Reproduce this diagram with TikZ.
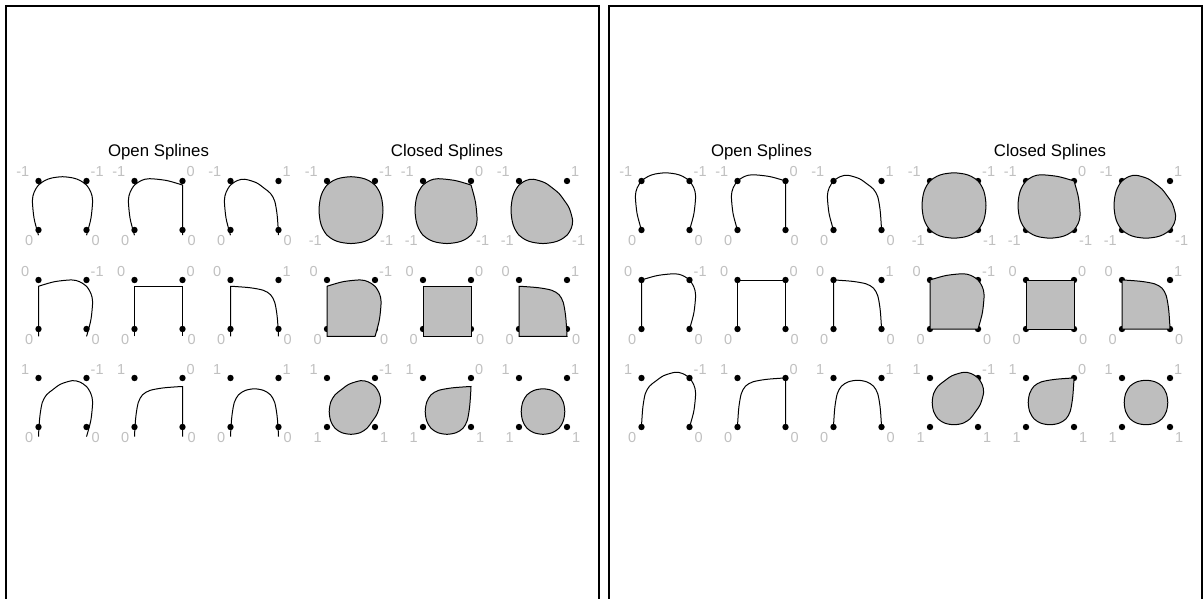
\documentclass[tikz,border=0pt]{standalone}
\usepackage{fontspec}
\setmainfont{Liberation Sans}
\definecolor{lblgray}{RGB}{192,192,192}
\definecolor{splgray}{RGB}{190,190,190}

\begin{document}
\begin{tikzpicture}[x=1pt,y=-1pt,
  panel/.style={line width=1.2pt},
  ttl/.style={font=\fontsize{16.8}{20}\selectfont,inner sep=0pt,anchor=base},
  sfl/.style={font=\fontsize{14.5}{16}\selectfont,text=lblgray,inner sep=0pt,anchor=base east},
  sfr/.style={font=\fontsize{14.5}{16}\selectfont,text=lblgray,inner sep=0pt,anchor=base west},
  opensp/.style={line width=1pt},
  closedsp/.style={draw=black,fill=splgray,line width=1pt}]
\useasboundingbox (0,0) rectangle (1203,599);
\begin{scope}[xshift=0pt]
\draw[panel] (6,620) -- (6,6) -- (599,6) -- (599,620);
\node[ttl] (Lopen) at (158.5,157) {Open Splines};
\node[ttl] (Lclosed) at (447,157) {Closed Splines};
\fill (38.5,181) circle (3.2pt) (86.5,181) circle (3.2pt) (38.5,230) circle (3.2pt) (86.5,230) circle (3.2pt);
\node[sfl] (Lo11tl) at (29.5,177) {-1};
\node[sfr] (Lo11tr) at (90.5,177) {-1};
\node[sfl] (Lo11bl) at (33.5,245) {0};
\node[sfr] (Lo11br) at (91.5,245) {0};
\draw[opensp,shift={(38.5,235.18)},yscale=-1.0225] plot[smooth] coordinates {(0,0) (-1.02,3.32) (-4.5,16.84) (-6.11,33.7) (-4.44,41.82) (0,49) (6.84,53.67) (13.58,55.98) (24,57.17) (34.42,55.98) (41.16,53.67) (48,49) (52.44,41.82) (54.11,33.7) (52.5,16.84) (49.02,3.32) (48,0)};
\fill (134.5,181) circle (3.2pt) (182.5,181) circle (3.2pt) (134.5,230) circle (3.2pt) (182.5,230) circle (3.2pt);
\node[sfl] (Lo12tl) at (125.5,177) {-1};
\node[sfr] (Lo12tr) at (186.5,177) {0};
\node[sfl] (Lo12bl) at (129.5,245) {0};
\node[sfr] (Lo12br) at (187.5,245) {0};
\draw[opensp,shift={(134.5,235.18)},yscale=-1.0225] plot[smooth] coordinates {(0,0) (-1.02,3.32) (-4.5,16.84) (-6.11,33.7) (-4.44,41.82) (0,49) (7.03,53.54) (14.99,55.24) (31.5,53.59) (44.75,50.04) (48,49)} -- (48,0);
\fill (230.5,181) circle (3.2pt) (278.5,181) circle (3.2pt) (230.5,230) circle (3.2pt) (278.5,230) circle (3.2pt);
\node[sfl] (Lo13tl) at (221.5,177) {-1};
\node[sfr] (Lo13tr) at (282.5,177) {1};
\node[sfl] (Lo13bl) at (225.5,245) {0};
\node[sfr] (Lo13br) at (283.5,245) {0};
\draw[opensp,shift={(230.5,235.18)},yscale=-1.0225] plot[smooth] coordinates {(0,0) (-1.02,3.32) (-4.5,16.84) (-6.11,33.7) (-4.44,41.82) (0,49) (6.99,53.47) (14.34,54.71) (25.83,51.32) (33.67,45.94) (40,40.83) (44.23,33.29) (46.62,19.95) (47.8,4.46) (48,0)};
\fill (327,181) circle (3.2pt) (375,181) circle (3.2pt) (327,230) circle (3.2pt) (375,230) circle (3.2pt);
\node[sfl] (Lc11tl) at (318,177) {-1};
\node[sfr] (Lc11tr) at (379,177) {-1};
\node[sfl] (Lc11bl) at (322,245) {-1};
\node[sfr] (Lc11br) at (380,245) {-1};
\draw[closedsp,shift={(327,235.18)},yscale=-1.0225] plot[smooth cycle] coordinates {(0,49) (6.84,53.67) (13.58,55.98) (24,57.17) (34.42,55.98) (41.16,53.67) (48,49) (52.57,42.02) (54.83,35.14) (56,24.5) (54.83,13.86) (52.57,6.98) (48,0) (41.16,-4.67) (34.42,-6.97) (24,-8.17) (13.58,-6.97) (6.84,-4.67) (0,0) (-4.57,6.98) (-6.83,13.86) (-8,24.5) (-6.83,35.14) (-4.57,42.02)};
\fill (423,181) circle (3.2pt) (471,181) circle (3.2pt) (423,230) circle (3.2pt) (471,230) circle (3.2pt);
\node[sfl] (Lc12tl) at (414,177) {-1};
\node[sfr] (Lc12tr) at (475,177) {0};
\node[sfl] (Lc12bl) at (418,245) {-1};
\node[sfr] (Lc12br) at (476,245) {-1};
\draw[closedsp,shift={(423,235.18)},yscale=-1.0225] plot[smooth] coordinates {(48,49) (49.02,45.68) (52.5,32.16) (54.11,15.3) (52.44,7.18) (48,0) (41.16,-4.67) (34.42,-6.97) (24,-8.17) (13.58,-6.97) (6.84,-4.67) (0,0) (-4.57,6.98) (-6.83,13.86) (-8,24.5) (-6.83,35.14) (-4.57,42.02) (0,49) (7.03,53.54) (14.99,55.24) (31.5,53.59) (44.75,50.04) (48,49)} -- cycle;
\fill (519,181) circle (3.2pt) (567,181) circle (3.2pt) (519,230) circle (3.2pt) (567,230) circle (3.2pt);
\node[sfl] (Lc13tl) at (510,177) {-1};
\node[sfr] (Lc13tr) at (571,177) {1};
\node[sfl] (Lc13bl) at (514,245) {-1};
\node[sfr] (Lc13br) at (572,245) {-1};
\draw[closedsp,shift={(519,235.18)},yscale=-1.0225] plot[smooth cycle] coordinates {(0,49) (6.99,53.47) (14.34,54.71) (25.83,51.32) (33.67,45.94) (40,40.83) (45,34.38) (50.27,26.37) (53.6,14.64) (52.38,7.14) (48,0) (41.16,-4.67) (34.42,-6.97) (24,-8.17) (13.58,-6.97) (6.84,-4.67) (0,0) (-4.57,6.98) (-6.83,13.86) (-8,24.5) (-6.83,35.14) (-4.57,42.02)};
\fill (38.5,280) circle (3.2pt) (86.5,280) circle (3.2pt) (38.5,329) circle (3.2pt) (86.5,329) circle (3.2pt);
\node[sfl] (Lo21tl) at (29.5,276) {0};
\node[sfr] (Lo21tr) at (90.5,276) {-1};
\node[sfl] (Lo21bl) at (33.5,344) {0};
\node[sfr] (Lo21br) at (91.5,344) {0};
\draw[opensp,shift={(38.5,336.40)},yscale=-1.0225] (0,0) -- plot[smooth] coordinates {(0,49) (3.26,50.04) (16.5,53.59) (33.01,55.24) (40.97,53.54) (48,49) (52.44,41.82) (54.11,33.7) (52.5,16.84) (49.02,3.32) (48,0)};
\fill (134.5,280) circle (3.2pt) (182.5,280) circle (3.2pt) (134.5,329) circle (3.2pt) (182.5,329) circle (3.2pt);
\node[sfl] (Lo22tl) at (125.5,276) {0};
\node[sfr] (Lo22tr) at (186.5,276) {0};
\node[sfl] (Lo22bl) at (129.5,344) {0};
\node[sfr] (Lo22br) at (187.5,344) {0};
\draw[opensp,shift={(134.5,336.40)},yscale=-1.0225] (0,0) -- (0,49) -- (48,49) -- (48,0);
\fill (230.5,280) circle (3.2pt) (278.5,280) circle (3.2pt) (230.5,329) circle (3.2pt) (278.5,329) circle (3.2pt);
\node[sfl] (Lo23tl) at (221.5,276) {0};
\node[sfr] (Lo23tr) at (282.5,276) {1};
\node[sfl] (Lo23bl) at (225.5,344) {0};
\node[sfr] (Lo23br) at (283.5,344) {0};
\draw[opensp,shift={(230.5,336.40)},yscale=-1.0225] (0,0) -- plot[smooth] coordinates {(0,49) (4.36,48.8) (19.54,47.59) (32.61,45.15) (40,40.83) (44.23,33.29) (46.62,19.95) (47.8,4.46) (48,0)};
\fill (327,280) circle (3.2pt) (375,280) circle (3.2pt) (327,329) circle (3.2pt) (375,329) circle (3.2pt);
\node[sfl] (Lc21tl) at (318,276) {0};
\node[sfr] (Lc21tr) at (379,276) {-1};
\node[sfl] (Lc21bl) at (322,344) {0};
\node[sfr] (Lc21br) at (380,344) {0};
\draw[closedsp,shift={(327,336.40)},yscale=-1.0225] (0,0) -- plot[smooth] coordinates {(0,49) (3.26,50.04) (16.5,53.59) (33.01,55.24) (40.97,53.54) (48,49) (52.44,41.82) (54.11,33.7) (52.5,16.84) (49.02,3.32) (48,0)} -- cycle;
\fill (423,280) circle (3.2pt) (471,280) circle (3.2pt) (423,329) circle (3.2pt) (471,329) circle (3.2pt);
\node[sfl] (Lc22tl) at (414,276) {0};
\node[sfr] (Lc22tr) at (475,276) {0};
\node[sfl] (Lc22bl) at (418,344) {0};
\node[sfr] (Lc22br) at (476,344) {0};
\draw[closedsp,shift={(423,336.40)},yscale=-1.0225] (0,0) rectangle (48,49);
\fill (519,280) circle (3.2pt) (567,280) circle (3.2pt) (519,329) circle (3.2pt) (567,329) circle (3.2pt);
\node[sfl] (Lc23tl) at (510,276) {0};
\node[sfr] (Lc23tr) at (571,276) {1};
\node[sfl] (Lc23bl) at (514,344) {0};
\node[sfr] (Lc23br) at (572,344) {0};
\draw[closedsp,shift={(519,336.40)},yscale=-1.0225] (0,0) -- plot[smooth] coordinates {(0,49) (4.36,48.8) (19.54,47.59) (32.61,45.15) (40,40.83) (44.23,33.29) (46.62,19.95) (47.8,4.46) (48,0)} -- cycle;
\fill (38.5,378) circle (3.2pt) (86.5,378) circle (3.2pt) (38.5,427) circle (3.2pt) (86.5,427) circle (3.2pt);
\node[sfl] (Lo31tl) at (29.5,374) {1};
\node[sfr] (Lo31tr) at (90.5,374) {-1};
\node[sfl] (Lo31bl) at (33.5,442) {0};
\node[sfr] (Lo31br) at (91.5,442) {0};
\draw[opensp,shift={(38.5,436.61)},yscale=-1.0225] plot[smooth] coordinates {(0,0) (0.2,4.46) (1.38,19.95) (3.77,33.29) (8,40.83) (14.33,45.94) (22.17,51.32) (33.66,54.71) (41.01,53.47) (48,49) (52.44,41.82) (54.11,33.7) (52.5,16.84) (49.02,3.32) (48,0)};
\fill (134.5,378) circle (3.2pt) (182.5,378) circle (3.2pt) (134.5,427) circle (3.2pt) (182.5,427) circle (3.2pt);
\node[sfl] (Lo32tl) at (125.5,374) {1};
\node[sfr] (Lo32tr) at (186.5,374) {0};
\node[sfl] (Lo32bl) at (129.5,442) {0};
\node[sfr] (Lo32br) at (187.5,442) {0};
\draw[opensp,shift={(134.5,436.61)},yscale=-1.0225] plot[smooth] coordinates {(0,0) (0.2,4.46) (1.38,19.95) (3.77,33.29) (8,40.83) (15.39,45.15) (28.46,47.59) (43.64,48.8) (48,49)} -- (48,0);
\fill (230.5,378) circle (3.2pt) (278.5,378) circle (3.2pt) (230.5,427) circle (3.2pt) (278.5,427) circle (3.2pt);
\node[sfl] (Lo33tl) at (221.5,374) {1};
\node[sfr] (Lo33tr) at (282.5,374) {1};
\node[sfl] (Lo33bl) at (225.5,442) {0};
\node[sfr] (Lo33br) at (283.5,442) {0};
\draw[opensp,shift={(230.5,436.61)},yscale=-1.0225] plot[smooth] coordinates {(0,0) (0.2,4.46) (1.38,19.95) (3.77,33.29) (8,40.83) (14.88,45.17) (24,46.74) (33.12,45.17) (40,40.83) (44.23,33.29) (46.62,19.95) (47.8,4.46) (48,0)};
\fill (327,378) circle (3.2pt) (375,378) circle (3.2pt) (327,427) circle (3.2pt) (375,427) circle (3.2pt);
\node[sfl] (Lc31tl) at (318,374) {1};
\node[sfr] (Lc31tr) at (379,374) {-1};
\node[sfl] (Lc31bl) at (322,442) {1};
\node[sfr] (Lc31br) at (380,442) {1};
\draw[closedsp,shift={(327,436.61)},yscale=-1.0225] plot[smooth cycle] coordinates {(8,40.83) (14.33,45.94) (22.17,51.32) (33.66,54.71) (41.01,53.47) (48,49) (52.38,41.86) (53.6,34.36) (50.27,22.63) (45,14.62) (40,8.17) (33.12,3.83) (24,2.26) (14.88,3.83) (8,8.17) (3.75,15.19) (2.22,24.5) (3.75,33.81)};
\fill (423,378) circle (3.2pt) (471,378) circle (3.2pt) (423,427) circle (3.2pt) (471,427) circle (3.2pt);
\node[sfl] (Lc32tl) at (414,374) {1};
\node[sfr] (Lc32tr) at (475,374) {0};
\node[sfl] (Lc32bl) at (418,442) {1};
\node[sfr] (Lc32br) at (476,442) {1};
\draw[closedsp,shift={(423,436.61)},yscale=-1.0225] plot[smooth] coordinates {(48,49) (47.8,44.55) (46.62,29.05) (44.23,15.71) (40,8.17) (33.12,3.83) (24,2.26) (14.88,3.83) (8,8.17) (3.75,15.19) (2.22,24.5) (3.75,33.81) (8,40.83) (15.39,45.15) (28.46,47.59) (43.64,48.8) (48,49)} -- cycle;
\fill (519,378) circle (3.2pt) (567,378) circle (3.2pt) (519,427) circle (3.2pt) (567,427) circle (3.2pt);
\node[sfl] (Lc33tl) at (510,374) {1};
\node[sfr] (Lc33tr) at (571,374) {1};
\node[sfl] (Lc33bl) at (514,442) {1};
\node[sfr] (Lc33br) at (572,442) {1};
\draw[closedsp,shift={(519,436.61)},yscale=-1.0225] plot[smooth cycle] coordinates {(8,40.83) (14.88,45.17) (24,46.74) (33.12,45.17) (40,40.83) (44.25,33.81) (45.78,24.5) (44.25,15.19) (40,8.17) (33.12,3.83) (24,2.26) (14.88,3.83) (8,8.17) (3.75,15.19) (2.22,24.5) (3.75,33.81)};
\end{scope}
\begin{scope}[xshift=603pt]
\draw[panel] (6,620) -- (6,6) -- (599,6) -- (599,620);
\node[ttl] (Ropen) at (158.5,157) {Open Splines};
\node[ttl] (Rclosed) at (447,157) {Closed Splines};
\fill (38.5,181) circle (3.2pt) (86.5,181) circle (3.2pt) (38.5,230) circle (3.2pt) (86.5,230) circle (3.2pt);
\node[sfl] (Ro11tl) at (29.5,177) {-1};
\node[sfr] (Ro11tr) at (90.5,177) {-1};
\node[sfl] (Ro11bl) at (33.5,245) {0};
\node[sfr] (Ro11br) at (91.5,245) {0};
\draw[opensp,shift={(38.5,230)},yscale=-1] plot[smooth] coordinates {(0,0) (-1.02,3.32) (-4.5,16.84) (-6.11,33.7) (-4.44,41.82) (0,49) (6.84,53.67) (13.58,55.98) (24,57.17) (34.42,55.98) (41.16,53.67) (48,49) (52.44,41.82) (54.11,33.7) (52.5,16.84) (49.02,3.32) (48,0)};
\fill (134.5,181) circle (3.2pt) (182.5,181) circle (3.2pt) (134.5,230) circle (3.2pt) (182.5,230) circle (3.2pt);
\node[sfl] (Ro12tl) at (125.5,177) {-1};
\node[sfr] (Ro12tr) at (186.5,177) {0};
\node[sfl] (Ro12bl) at (129.5,245) {0};
\node[sfr] (Ro12br) at (187.5,245) {0};
\draw[opensp,shift={(134.5,230)},yscale=-1] plot[smooth] coordinates {(0,0) (-1.02,3.32) (-4.5,16.84) (-6.11,33.7) (-4.44,41.82) (0,49) (7.03,53.54) (14.99,55.24) (31.5,53.59) (44.75,50.04) (48,49)} -- (48,0);
\fill (230.5,181) circle (3.2pt) (278.5,181) circle (3.2pt) (230.5,230) circle (3.2pt) (278.5,230) circle (3.2pt);
\node[sfl] (Ro13tl) at (221.5,177) {-1};
\node[sfr] (Ro13tr) at (282.5,177) {1};
\node[sfl] (Ro13bl) at (225.5,245) {0};
\node[sfr] (Ro13br) at (283.5,245) {0};
\draw[opensp,shift={(230.5,230)},yscale=-1] plot[smooth] coordinates {(0,0) (-1.02,3.32) (-4.5,16.84) (-6.11,33.7) (-4.44,41.82) (0,49) (6.99,53.47) (14.34,54.71) (25.83,51.32) (33.67,45.94) (40,40.83) (44.23,33.29) (46.62,19.95) (47.8,4.46) (48,0)};
\fill (327,181) circle (3.2pt) (375,181) circle (3.2pt) (327,230) circle (3.2pt) (375,230) circle (3.2pt);
\node[sfl] (Rc11tl) at (318,177) {-1};
\node[sfr] (Rc11tr) at (379,177) {-1};
\node[sfl] (Rc11bl) at (322,245) {-1};
\node[sfr] (Rc11br) at (380,245) {-1};
\draw[closedsp,shift={(327,230)},yscale=-1] plot[smooth cycle] coordinates {(0,49) (6.84,53.67) (13.58,55.98) (24,57.17) (34.42,55.98) (41.16,53.67) (48,49) (52.57,42.02) (54.83,35.14) (56,24.5) (54.83,13.86) (52.57,6.98) (48,0) (41.16,-4.67) (34.42,-6.97) (24,-8.17) (13.58,-6.97) (6.84,-4.67) (0,0) (-4.57,6.98) (-6.83,13.86) (-8,24.5) (-6.83,35.14) (-4.57,42.02)};
\fill (423,181) circle (3.2pt) (471,181) circle (3.2pt) (423,230) circle (3.2pt) (471,230) circle (3.2pt);
\node[sfl] (Rc12tl) at (414,177) {-1};
\node[sfr] (Rc12tr) at (475,177) {0};
\node[sfl] (Rc12bl) at (418,245) {-1};
\node[sfr] (Rc12br) at (476,245) {-1};
\draw[closedsp,shift={(423,230)},yscale=-1] plot[smooth] coordinates {(48,49) (49.02,45.68) (52.5,32.16) (54.11,15.3) (52.44,7.18) (48,0) (41.16,-4.67) (34.42,-6.97) (24,-8.17) (13.58,-6.97) (6.84,-4.67) (0,0) (-4.57,6.98) (-6.83,13.86) (-8,24.5) (-6.83,35.14) (-4.57,42.02) (0,49) (7.03,53.54) (14.99,55.24) (31.5,53.59) (44.75,50.04) (48,49)} -- cycle;
\fill (519,181) circle (3.2pt) (567,181) circle (3.2pt) (519,230) circle (3.2pt) (567,230) circle (3.2pt);
\node[sfl] (Rc13tl) at (510,177) {-1};
\node[sfr] (Rc13tr) at (571,177) {1};
\node[sfl] (Rc13bl) at (514,245) {-1};
\node[sfr] (Rc13br) at (572,245) {-1};
\draw[closedsp,shift={(519,230)},yscale=-1] plot[smooth cycle] coordinates {(0,49) (6.99,53.47) (14.34,54.71) (25.83,51.32) (33.67,45.94) (40,40.83) (45,34.38) (50.27,26.37) (53.6,14.64) (52.38,7.14) (48,0) (41.16,-4.67) (34.42,-6.97) (24,-8.17) (13.58,-6.97) (6.84,-4.67) (0,0) (-4.57,6.98) (-6.83,13.86) (-8,24.5) (-6.83,35.14) (-4.57,42.02)};
\fill (38.5,280) circle (3.2pt) (86.5,280) circle (3.2pt) (38.5,329) circle (3.2pt) (86.5,329) circle (3.2pt);
\node[sfl] (Ro21tl) at (29.5,276) {0};
\node[sfr] (Ro21tr) at (90.5,276) {-1};
\node[sfl] (Ro21bl) at (33.5,344) {0};
\node[sfr] (Ro21br) at (91.5,344) {0};
\draw[opensp,shift={(38.5,329)},yscale=-1] (0,0) -- plot[smooth] coordinates {(0,49) (3.26,50.04) (16.5,53.59) (33.01,55.24) (40.97,53.54) (48,49) (52.44,41.82) (54.11,33.7) (52.5,16.84) (49.02,3.32) (48,0)};
\fill (134.5,280) circle (3.2pt) (182.5,280) circle (3.2pt) (134.5,329) circle (3.2pt) (182.5,329) circle (3.2pt);
\node[sfl] (Ro22tl) at (125.5,276) {0};
\node[sfr] (Ro22tr) at (186.5,276) {0};
\node[sfl] (Ro22bl) at (129.5,344) {0};
\node[sfr] (Ro22br) at (187.5,344) {0};
\draw[opensp,shift={(134.5,329)},yscale=-1] (0,0) -- (0,49) -- (48,49) -- (48,0);
\fill (230.5,280) circle (3.2pt) (278.5,280) circle (3.2pt) (230.5,329) circle (3.2pt) (278.5,329) circle (3.2pt);
\node[sfl] (Ro23tl) at (221.5,276) {0};
\node[sfr] (Ro23tr) at (282.5,276) {1};
\node[sfl] (Ro23bl) at (225.5,344) {0};
\node[sfr] (Ro23br) at (283.5,344) {0};
\draw[opensp,shift={(230.5,329)},yscale=-1] (0,0) -- plot[smooth] coordinates {(0,49) (4.36,48.8) (19.54,47.59) (32.61,45.15) (40,40.83) (44.23,33.29) (46.62,19.95) (47.8,4.46) (48,0)};
\fill (327,280) circle (3.2pt) (375,280) circle (3.2pt) (327,329) circle (3.2pt) (375,329) circle (3.2pt);
\node[sfl] (Rc21tl) at (318,276) {0};
\node[sfr] (Rc21tr) at (379,276) {-1};
\node[sfl] (Rc21bl) at (322,344) {0};
\node[sfr] (Rc21br) at (380,344) {0};
\draw[closedsp,shift={(327,329)},yscale=-1] (0,0) -- plot[smooth] coordinates {(0,49) (3.26,50.04) (16.5,53.59) (33.01,55.24) (40.97,53.54) (48,49) (52.44,41.82) (54.11,33.7) (52.5,16.84) (49.02,3.32) (48,0)} -- cycle;
\fill (423,280) circle (3.2pt) (471,280) circle (3.2pt) (423,329) circle (3.2pt) (471,329) circle (3.2pt);
\node[sfl] (Rc22tl) at (414,276) {0};
\node[sfr] (Rc22tr) at (475,276) {0};
\node[sfl] (Rc22bl) at (418,344) {0};
\node[sfr] (Rc22br) at (476,344) {0};
\draw[closedsp,shift={(423,329)},yscale=-1] (0,0) rectangle (48,49);
\fill (519,280) circle (3.2pt) (567,280) circle (3.2pt) (519,329) circle (3.2pt) (567,329) circle (3.2pt);
\node[sfl] (Rc23tl) at (510,276) {0};
\node[sfr] (Rc23tr) at (571,276) {1};
\node[sfl] (Rc23bl) at (514,344) {0};
\node[sfr] (Rc23br) at (572,344) {0};
\draw[closedsp,shift={(519,329)},yscale=-1] (0,0) -- plot[smooth] coordinates {(0,49) (4.36,48.8) (19.54,47.59) (32.61,45.15) (40,40.83) (44.23,33.29) (46.62,19.95) (47.8,4.46) (48,0)} -- cycle;
\fill (38.5,378) circle (3.2pt) (86.5,378) circle (3.2pt) (38.5,427) circle (3.2pt) (86.5,427) circle (3.2pt);
\node[sfl] (Ro31tl) at (29.5,374) {1};
\node[sfr] (Ro31tr) at (90.5,374) {-1};
\node[sfl] (Ro31bl) at (33.5,442) {0};
\node[sfr] (Ro31br) at (91.5,442) {0};
\draw[opensp,shift={(38.5,427)},yscale=-1] plot[smooth] coordinates {(0,0) (0.2,4.46) (1.38,19.95) (3.77,33.29) (8,40.83) (14.33,45.94) (22.17,51.32) (33.66,54.71) (41.01,53.47) (48,49) (52.44,41.82) (54.11,33.7) (52.5,16.84) (49.02,3.32) (48,0)};
\fill (134.5,378) circle (3.2pt) (182.5,378) circle (3.2pt) (134.5,427) circle (3.2pt) (182.5,427) circle (3.2pt);
\node[sfl] (Ro32tl) at (125.5,374) {1};
\node[sfr] (Ro32tr) at (186.5,374) {0};
\node[sfl] (Ro32bl) at (129.5,442) {0};
\node[sfr] (Ro32br) at (187.5,442) {0};
\draw[opensp,shift={(134.5,427)},yscale=-1] plot[smooth] coordinates {(0,0) (0.2,4.46) (1.38,19.95) (3.77,33.29) (8,40.83) (15.39,45.15) (28.46,47.59) (43.64,48.8) (48,49)} -- (48,0);
\fill (230.5,378) circle (3.2pt) (278.5,378) circle (3.2pt) (230.5,427) circle (3.2pt) (278.5,427) circle (3.2pt);
\node[sfl] (Ro33tl) at (221.5,374) {1};
\node[sfr] (Ro33tr) at (282.5,374) {1};
\node[sfl] (Ro33bl) at (225.5,442) {0};
\node[sfr] (Ro33br) at (283.5,442) {0};
\draw[opensp,shift={(230.5,427)},yscale=-1] plot[smooth] coordinates {(0,0) (0.2,4.46) (1.38,19.95) (3.77,33.29) (8,40.83) (14.88,45.17) (24,46.74) (33.12,45.17) (40,40.83) (44.23,33.29) (46.62,19.95) (47.8,4.46) (48,0)};
\fill (327,378) circle (3.2pt) (375,378) circle (3.2pt) (327,427) circle (3.2pt) (375,427) circle (3.2pt);
\node[sfl] (Rc31tl) at (318,374) {1};
\node[sfr] (Rc31tr) at (379,374) {-1};
\node[sfl] (Rc31bl) at (322,442) {1};
\node[sfr] (Rc31br) at (380,442) {1};
\draw[closedsp,shift={(327,427)},yscale=-1] plot[smooth cycle] coordinates {(8,40.83) (14.33,45.94) (22.17,51.32) (33.66,54.71) (41.01,53.47) (48,49) (52.38,41.86) (53.6,34.36) (50.27,22.63) (45,14.62) (40,8.17) (33.12,3.83) (24,2.26) (14.88,3.83) (8,8.17) (3.75,15.19) (2.22,24.5) (3.75,33.81)};
\fill (423,378) circle (3.2pt) (471,378) circle (3.2pt) (423,427) circle (3.2pt) (471,427) circle (3.2pt);
\node[sfl] (Rc32tl) at (414,374) {1};
\node[sfr] (Rc32tr) at (475,374) {0};
\node[sfl] (Rc32bl) at (418,442) {1};
\node[sfr] (Rc32br) at (476,442) {1};
\draw[closedsp,shift={(423,427)},yscale=-1] plot[smooth] coordinates {(48,49) (47.8,44.55) (46.62,29.05) (44.23,15.71) (40,8.17) (33.12,3.83) (24,2.26) (14.88,3.83) (8,8.17) (3.75,15.19) (2.22,24.5) (3.75,33.81) (8,40.83) (15.39,45.15) (28.46,47.59) (43.64,48.8) (48,49)} -- cycle;
\fill (519,378) circle (3.2pt) (567,378) circle (3.2pt) (519,427) circle (3.2pt) (567,427) circle (3.2pt);
\node[sfl] (Rc33tl) at (510,374) {1};
\node[sfr] (Rc33tr) at (571,374) {1};
\node[sfl] (Rc33bl) at (514,442) {1};
\node[sfr] (Rc33br) at (572,442) {1};
\draw[closedsp,shift={(519,427)},yscale=-1] plot[smooth cycle] coordinates {(8,40.83) (14.88,45.17) (24,46.74) (33.12,45.17) (40,40.83) (44.25,33.81) (45.78,24.5) (44.25,15.19) (40,8.17) (33.12,3.83) (24,2.26) (14.88,3.83) (8,8.17) (3.75,15.19) (2.22,24.5) (3.75,33.81)};
\end{scope}
\end{tikzpicture}
\end{document}
